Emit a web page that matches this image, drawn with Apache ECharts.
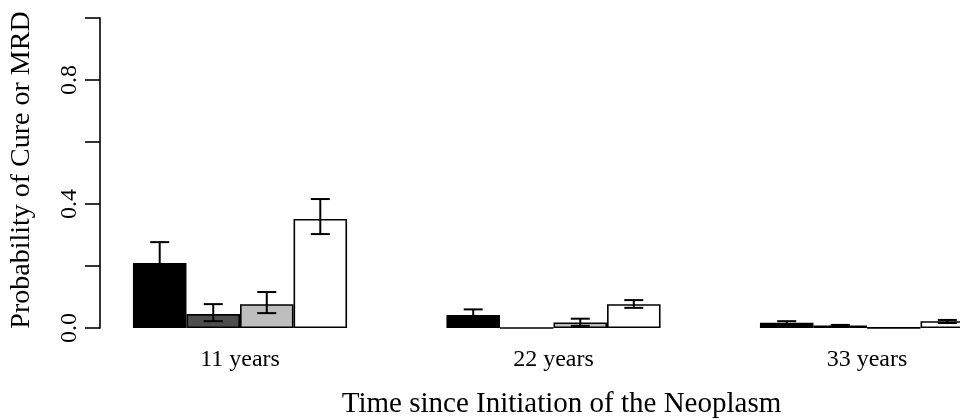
<!DOCTYPE html>
<html>
<head>
<meta charset="utf-8">
<script src="https://cdn.jsdelivr.net/npm/echarts@6/dist/echarts.min.js"></script>
<style>
html,body{margin:0;padding:0;background:#fff;}
#chart{width:960px;height:420px;}
</style>
</head>
<body>
<div id="chart"></div>
<script>
// ---- data ----
const categories = ['11 years', '22 years', '33 years'];
const seriesNames = ['Group 1', 'Group 2', 'Group 3', 'Group 4'];
const values1 = [0.210, 0.042, 0.017];
const values2 = [0.045, 0.000, 0.008];
const values3 = [0.077, 0.018, 0.001];
const values4 = [0.352, 0.077, 0.022];
const lower1 = [0.143, 0.024, 0.012];
const upper1 = [0.277, 0.060, 0.022];
const lower2 = [0.022, 0.000, 0.006];
const upper2 = [0.077, 0.000, 0.010];
const lower3 = [0.048, 0.007, 0.001];
const upper3 = [0.116, 0.030, 0.001];
const lower4 = [0.303, 0.065, 0.016];
const upper4 = [0.416, 0.090, 0.026];
const yTickLabels = ['0.0', '0.4', '0.8'];
const xTitle = 'Time since Initiation of the Neoplasm';
const yTitle = 'Probability of Cure or MRD';

// ---- styling ----
const FONT = '"Liberation Serif", "DejaVu Serif", serif';
const colors = ['#000000', '#4d4d4d', '#bebebe', '#ffffff'];
const CAT_GAP = 0.317;

const allValues = [values1, values2, values3, values4];
const allLower = [lower1, lower2, lower3, lower4];
const allUpper = [upper1, upper2, upper3, upper4];

const errData = [];
for (let k = 0; k < 4; k++) {
  for (let c = 0; c < categories.length; c++) {
    errData.push([c, k, allLower[k][c], allUpper[k][c]]);
  }
}

const barSeries = allValues.map((vals, k) => ({
  type: 'bar',
  name: seriesNames[k],
  data: vals,
  barGap: '0%',
  barCategoryGap: (CAT_GAP * 100) + '%',
  itemStyle: { color: colors[k], borderColor: '#000', borderWidth: 1.6 },
  emphasis: { disabled: true },
  z: 2
}));

const errSeries = {
  type: 'custom',
  data: errData,
  encode: { x: 0, y: 3 },
  z: 5,
  clip: false,
  renderItem: function (params, api) {
    const cat = api.value(0), k = api.value(1), lo = api.value(2), hi = api.value(3);
    if (hi - lo < 0.0005) return null;
    const catW = api.size([1, 0])[0];
    const bw = catW * (1 - CAT_GAP) / 4;
    const cx = api.coord([cat, 0])[0] + (k - 1.5) * bw;
    const yLo = api.coord([cat, lo])[1];
    const yHi = api.coord([cat, hi])[1];
    const cap = 9.5;
    const st = { stroke: '#000', lineWidth: 2 };
    return {
      type: 'group',
      children: [
        { type: 'line', shape: { x1: cx, y1: yLo, x2: cx, y2: yHi }, style: st },
        { type: 'line', shape: { x1: cx - cap, y1: yLo, x2: cx + cap, y2: yLo }, style: st },
        { type: 'line', shape: { x1: cx - cap, y1: yHi, x2: cx + cap, y2: yHi }, style: st }
      ]
    };
  }
};

const chart = echarts.init(document.getElementById('chart'), null, { renderer: 'canvas' });
chart.setOption({
  animation: false,
  backgroundColor: '#ffffff',
  grid: {
    left: 83.25, right: -63.75, top: 18, bottom: 92,
    containLabel: false, outerBoundsMode: 'none'
  },
  xAxis: {
    type: 'category',
    data: categories,
    axisLine: { show: false },
    axisTick: { show: false },
    axisLabel: { color: '#000', fontFamily: FONT, fontSize: 24, margin: 20 },
    name: xTitle,
    nameLocation: 'middle',
    nameGap: 62,
    nameTextStyle: { color: '#000', fontFamily: FONT, fontSize: 29, padding: [0, 0, 0, 16] }
  },
  yAxis: {
    type: 'value',
    min: 0,
    max: 1,
    interval: 0.2,
    offset: -16.75,
    axisLine: { show: true, lineStyle: { color: '#000', width: 1.6 } },
    axisTick: { show: true, length: 15, lineStyle: { color: '#000', width: 1.6 } },
    splitLine: { show: false },
    axisLabel: {
      color: '#000', fontFamily: FONT, fontSize: 24, rotate: 90, margin: 18,
      formatter: function (v) {
        const s = v.toFixed(1);
        return yTickLabels.indexOf(s) >= 0 ? s : '';
      }
    },
    name: yTitle,
    nameLocation: 'middle',
    nameGap: 64,
    nameTextStyle: { color: '#000', fontFamily: FONT, fontSize: 28, padding: [0, 0, 0, 6] }
  },
  series: barSeries.concat([errSeries])
});
</script>
</body>
</html>
